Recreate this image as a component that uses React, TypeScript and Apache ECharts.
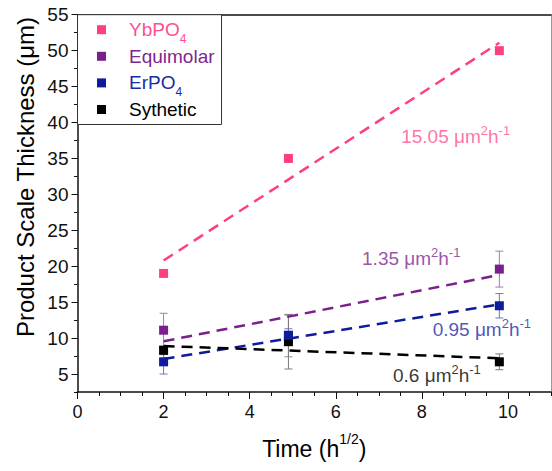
import React, { useEffect, useRef } from 'react';
import * as echarts from 'echarts';

// ---- data ----
const timeX = [2, 4.9, 9.8];
const ybpo4 = [19, 35, 50];
const equimolar = [11.1, 10.3, 19.6];
const erpo4 = [6.7, 10.4, 14.5];
const synthetic = [8.3, 9.5, 6.7];
const equimolarErr = [2.35, 2.9, 2.5];
const erpo4Err = [1.7, 0.9, 1.7];
const syntheticErr = [0.6, 3.8, 1.1];

const fitX = [2, 9.8];
const ybpo4Fit = [20.8, 51.1];
const equimolarFit = [9.55, 18.8];
const erpo4Fit = [7.1, 14.7];
const syntheticFit = [8.9, 7.2];

const xTicks = [0, 2, 4, 6, 8, 10];
const yTicks = [5, 10, 15, 20, 25, 30, 35, 40, 45, 50, 55];

const rateLabels = ['15.05', '1.35', '0.95', '0.6'];
const rateX = [7.52, 6.61, 8.25, 7.33];
const rateY = [38.0, 21.1, 11.2, 4.73];

const seriesNames = ['YbPO4', 'Equimolar', 'ErPO4', 'Sythetic'];
const legendTexts = ['{a|YbPO}{b|4}', '{a|Equimolar}', '{a|ErPO}{b|4}', '{a|Sythetic}'];
const yTitle = 'Product Scale Thickness (μm)';

const FONT = "'Liberation Sans', Arial, sans-serif";
const COLORS = ['#FF3F84', '#7B1F8C', '#0E1C9C', '#000000'];
const TEXT_COLORS = ['#FF4F8E', '#7E2690', '#1A2AA6', '#000000'];
const ERR_COLORS = ['#FF8FB5', '#A779B8', '#6D78C6', '#7a7a7a'];

export default function App() {
  const ref = useRef<HTMLDivElement>(null);
  useEffect(() => {
    if (!ref.current) return;
    const chart = echarts.init(ref.current, null, { renderer: 'svg' });

    const pointSets = [ybpo4, equimolar, erpo4, synthetic];
    const fitSets = [ybpo4Fit, equimolarFit, erpo4Fit, syntheticFit];
    const errSets: (number[] | null)[] = [null, equimolarErr, erpo4Err, syntheticErr];
    const zOrder = [3, 3, 4, 3.5];

    const series: any[] = [];

    errSets.forEach((errs, k) => {
      if (!errs) return;
      series.push({
        type: 'custom',
        name: seriesNames[k] + '-err',
        silent: true,
        z: 1,
        data: timeX.map((x, i) => [x, pointSets[k][i], errs[i]]),
        encode: { x: 0, y: 1 },
        renderItem: (_p: any, api: any) => {
          const x = api.value(0);
          const y = api.value(1);
          const e = api.value(2);
          const top = api.coord([x, y + e]);
          const bot = api.coord([x, y - e]);
          const w = 4;
          const style = { stroke: ERR_COLORS[k], lineWidth: 1 };
          return {
            type: 'group',
            children: [
              { type: 'line', shape: { x1: top[0], y1: top[1], x2: bot[0], y2: bot[1] }, style },
              { type: 'line', shape: { x1: top[0] - w, y1: top[1], x2: top[0] + w, y2: top[1] }, style },
              { type: 'line', shape: { x1: bot[0] - w, y1: bot[1], x2: bot[0] + w, y2: bot[1] }, style },
            ],
          };
        },
      });
    });

    fitSets.forEach((fit, k) => {
      series.push({
        type: 'line',
        name: seriesNames[k] + '-fit',
        silent: true,
        z: 2,
        symbol: 'none',
        data: fitX.map((x, i) => [x, fit[i]]),
        lineStyle: { color: COLORS[k], width: 2.5, type: [11, 7] },
      });
    });

    pointSets.forEach((vals, k) => {
      series.push({
        type: 'scatter',
        name: seriesNames[k],
        symbol: 'rect',
        symbolSize: 9,
        z: zOrder[k],
        itemStyle: { color: COLORS[k], opacity: 1 },
        data: timeX.map((x, i) => [x, vals[i]]),
      });
    });

    series.push({
      type: 'scatter',
      name: 'rates',
      silent: true,
      symbolSize: 0,
      z: 5,
      data: rateLabels.map((r, i) => ({
        value: [rateX[i], rateY[i]],
        label: {
          show: true,
          formatter: `{a|${r} μm}{s|2}{a|h}{s|-1}`,
          color: TEXT_COLORS[i],
        },
      })),
      label: {
        show: true,
        position: 'inside',
        align: 'left',
        verticalAlign: 'middle',
        fontFamily: FONT,
        fontSize: 19,
        rich: {
          a: { fontFamily: FONT, fontSize: 19, lineHeight: 22 },
          s: { fontFamily: FONT, fontSize: 13, lineHeight: 2, padding: [0, 0, 12, 0] },
        },
      },
    });

    const tickLabelStyle = { fontFamily: FONT, fontSize: 18, color: '#111' };

    chart.setOption({
      animation: false,
      grid: { left: 77.5, top: 14.7, right: 1, bottom: 74.5, containLabel: false },
      graphic: [
        {
          type: 'text',
          x: 25,
          y: 177,
          rotation: Math.PI / 2,
          silent: true,
          style: {
            text: yTitle,
            fill: '#000',
            font: `24px ${FONT}`,
            align: 'center',
            verticalAlign: 'middle',
          },
        },
      ],
      legend: {
        data: seriesNames.map((n, k) => ({
          name: n,
          itemStyle: { opacity: 1 },
          textStyle: {
            color: TEXT_COLORS[k],
            rich: {
              a: { color: TEXT_COLORS[k], fontFamily: FONT, fontSize: 19, lineHeight: 20 },
              b: { color: TEXT_COLORS[k], fontFamily: FONT, fontSize: 12, lineHeight: 2, padding: [18, 0, 0, 0] },
            },
          },
        })),
        formatter: (name: string) => legendTexts[seriesNames.indexOf(name)],
        orient: 'vertical',
        left: 77.5,
        top: 14.7,
        icon: 'rect',
        itemWidth: 9,
        itemHeight: 9,
        itemGap: 2.1,
        padding: [0, 7, 5.5, 19.5],
        borderColor: '#333',
        borderWidth: 1,
        backgroundColor: '#fff',
        selectedMode: false,
        textStyle: { fontFamily: FONT, fontSize: 19, padding: [0, 0, 0, 18] },
      },
      xAxis: [
        {
          type: 'value',
          position: 'bottom',
          min: 0,
          max: 11,
          interval: 0.5,
          name: '{a|Time (h}{s|1/2}{a|)}',
          nameLocation: 'middle',
          nameGap: 44,
          nameTextStyle: {
            color: '#000',
            fontFamily: FONT,
            fontSize: 23,
            rich: {
              a: { color: '#000', fontFamily: FONT, fontSize: 23, lineHeight: 26 },
              s: { color: '#000', fontFamily: FONT, fontSize: 14, lineHeight: 2, padding: [0, 0, 20, 0] },
            },
          },
          axisLine: { show: true, onZero: false, lineStyle: { color: '#111', width: 1.5 } },
          axisTick: { show: true, length: 4, lineStyle: { color: '#111', width: 1 } },
          axisLabel: { ...tickLabelStyle, margin: 11, customValues: xTicks },
          splitLine: { show: false },
        },
        {
          type: 'value',
          position: 'bottom',
          min: 0,
          max: 11,
          interval: 2,
          axisLine: { show: false },
          axisTick: { show: true, length: 7, customValues: xTicks, lineStyle: { color: '#111', width: 1 } },
          axisLabel: { show: false },
          splitLine: { show: false },
        },
        {
          type: 'value',
          position: 'top',
          min: 0,
          max: 11,
          axisLine: { show: true, onZero: false, lineStyle: { color: '#111', width: 1.5 } },
          axisTick: { show: false },
          axisLabel: { show: false },
          splitLine: { show: false },
        },
      ],
      yAxis: [
        {
          type: 'value',
          position: 'left',
          min: 2.5,
          max: 55,
          interval: 2.5,
          axisLine: { show: true, onZero: false, lineStyle: { color: '#111', width: 1.5 } },
          axisTick: { show: true, length: 3.5, lineStyle: { color: '#111', width: 1 } },
          axisLabel: { ...tickLabelStyle, fontSize: 19, margin: 9, customValues: yTicks },
          splitLine: { show: false },
        },
        {
          type: 'value',
          position: 'left',
          min: 2.5,
          max: 55,
          interval: 2.5,
          axisLine: { show: false },
          axisTick: { show: true, length: 6, customValues: yTicks, lineStyle: { color: '#111', width: 1 } },
          axisLabel: { show: false },
          splitLine: { show: false },
        },
        {
          type: 'value',
          position: 'right',
          min: 2.5,
          max: 55,
          axisLine: { show: true, onZero: false, lineStyle: { color: '#999', width: 1 } },
          axisTick: { show: false },
          axisLabel: { show: false },
          splitLine: { show: false },
        },
      ],
      series,
    });

    return () => chart.dispose();
  }, []);

  return (
    <div
      ref={ref}
      style={{ position: 'fixed', left: 0, top: 0, width: 552, height: 471, background: '#fff' }}
    />
  );
}
